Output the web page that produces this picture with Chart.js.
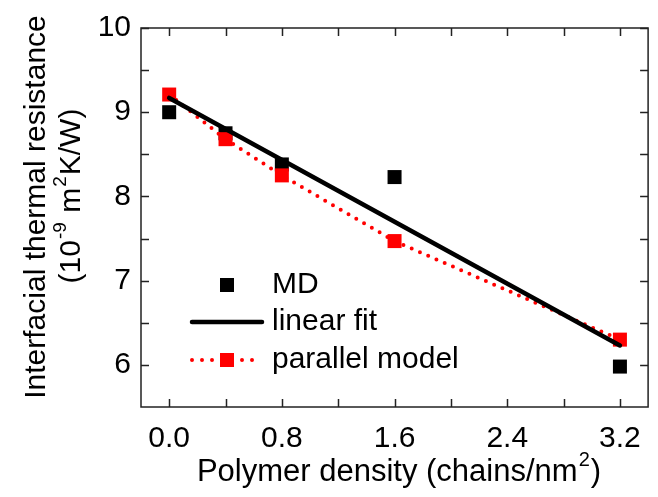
<!DOCTYPE html>
<html><head><meta charset="utf-8">
<script src="https://cdn.jsdelivr.net/npm/chart.js@4"></script>
<style>html,body{margin:0;padding:0;background:#fff}#wrap{width:658px;height:497px}</style>
</head><body><div id="wrap"><canvas id="c" width="658" height="497"></canvas></div>
<script>
// ---- data ----
const mdX = [0, 0.4, 0.8, 1.6, 3.2];
const mdY = [9.0, 8.75, 8.38, 8.23, 5.98];
const fitX = [0, 3.2];
const fitY = [9.17, 6.23];
const parX = [0, 0.4, 0.8, 1.6, 3.2];
const parY = [9.21, 8.68, 8.25, 7.47, 6.30];
const xTicks = [0, 0.8, 1.6, 2.4, 3.2];
const xTickLabels = ['0.0', '0.8', '1.6', '2.4', '3.2'];
const xMinorTicks = [0.4, 1.2, 2.0, 2.8];
const yTicks = [6, 7, 8, 9, 10];
const yTickLabels = ['6', '7', '8', '9', '10'];
const yMinorTicks = [6.5, 7.5, 8.5, 9.5];
const legendLabels = ['MD', 'linear fit', 'parallel model'];

const FONT = '"Liberation Sans", Arial, sans-serif';
const pts = (xs, ys) => xs.map((x, i) => ({x: x, y: ys[i]}));

const framePlugin = {
  id: 'frame',
  afterDraw(chart) {
    const ctx = chart.ctx, a = chart.chartArea;
    const xs = chart.scales.x, ys = chart.scales.y;
    ctx.save();
    ctx.strokeStyle = '#222';
    ctx.lineWidth = 1.5;
    ctx.strokeRect(a.left, a.top, a.right - a.left, a.bottom - a.top);
    const TL = 8;
    ctx.beginPath();
    xTicks.concat(xMinorTicks).forEach(v => {
      const p = Math.round(xs.getPixelForValue(v)) + 0.5;
      ctx.moveTo(p, a.bottom); ctx.lineTo(p, a.bottom - TL);
      ctx.moveTo(p, a.top); ctx.lineTo(p, a.top + TL);
    });
    yTicks.concat(yMinorTicks).forEach(v => {
      const p = Math.round(ys.getPixelForValue(v)) + 0.5;
      ctx.moveTo(a.left, p); ctx.lineTo(a.left + TL, p);
      ctx.moveTo(a.right, p); ctx.lineTo(a.right - TL, p);
    });
    ctx.stroke();

    // legend
    ctx.fillStyle = '#000';
    ctx.font = '30px ' + FONT;
    ctx.textBaseline = 'middle';
    ctx.textAlign = 'left';
    const lx0 = 192, lx1 = 262, tx = 272;
    const rows = [285, 322, 360];
    ctx.fillStyle = '#000';
    ctx.fillRect(227 - 7, rows[0] - 7, 14, 14);
    ctx.fillText(legendLabels[0], tx, rows[0]);
    ctx.strokeStyle = '#000'; ctx.lineWidth = 4.5; ctx.lineCap = 'round';
    ctx.beginPath(); ctx.moveTo(lx0, rows[1]); ctx.lineTo(lx1, rows[1]); ctx.stroke();
    ctx.fillText(legendLabels[1], tx, rows[1]);
    ctx.strokeStyle = '#ff0000'; ctx.lineWidth = 4; ctx.setLineDash([0, 10]);
    ctx.beginPath(); ctx.moveTo(lx0, rows[2]); ctx.lineTo(lx1, rows[2]); ctx.stroke();
    ctx.setLineDash([]);
    ctx.fillStyle = '#ff0000';
    ctx.fillRect(227 - 7, rows[2] - 7, 14, 14);
    ctx.fillStyle = '#000';
    ctx.fillText(legendLabels[2], tx, rows[2]);

    // axis titles with superscripts
    const drawRich = (parts, cx, cy, size) => {
      const sup = Math.round(size * 0.63);
      let w = 0;
      parts.forEach(p => { ctx.font = (p.sup ? sup : size) + 'px ' + FONT; w += ctx.measureText(p.t).width + (p.sup ? 2 : 0); });
      let x = cx - w / 2;
      parts.forEach(p => {
        ctx.font = (p.sup ? sup : size) + 'px ' + FONT;
        if (p.sup) x += 1;
        ctx.fillText(p.t, x, p.sup ? cy - size * 0.37 : cy);
        x += ctx.measureText(p.t).width + (p.sup ? 1 : 0);
      });
    };
    ctx.textBaseline = 'middle';
    drawRich([{t: 'Polymer density (chains/nm'}, {t: '2', sup: true}, {t: ')'}], 399, 472, 31);
    ctx.save();
    ctx.translate(37, 207);
    ctx.rotate(-Math.PI / 2);
    drawRich([{t: 'Interfacial thermal resistance'}], 0, 0, 30);
    ctx.restore();
    ctx.save();
    ctx.translate(72, 196);
    ctx.rotate(-Math.PI / 2);
    drawRich([{t: '(10'}, {t: '-9', sup: true}, {t: ' m'}, {t: '2', sup: true}, {t: 'K/W)'}], 0, 0, 30);
    ctx.restore();
    ctx.restore();
  }
};

new Chart(document.getElementById('c'), {
  type: 'scatter',
  data: {
    datasets: [
      {
        label: legendLabels[1], type: 'line', data: pts(fitX, fitY),
        borderColor: '#000', borderWidth: 4.5, pointRadius: 0, fill: false,
        borderCapStyle: 'round', order: 0
      },
      {
        label: legendLabels[2], type: 'line', data: pts(parX, parY),
        borderColor: '#ff0000', borderWidth: 4, borderDash: [0, 9], borderCapStyle: 'round',
        pointStyle: 'rect', pointRadius: 9.9, pointBorderWidth: 0,
        pointBackgroundColor: '#ff0000', pointBorderColor: '#ff0000', fill: false, order: 1
      },
      {
        label: legendLabels[0], data: pts(mdX, mdY), showLine: false,
        pointStyle: 'rect', pointRadius: 9.9, pointBorderWidth: 0,
        pointBackgroundColor: '#000', pointBorderColor: '#000', order: 2
      }
    ]
  },
  options: {
    responsive: false, animation: false, devicePixelRatio: 1,
    layout: {padding: {left: 0, right: 1, top: 26, bottom: 0}},
    plugins: {legend: {display: false}, tooltip: {enabled: false}, title: {display: false}},
    scales: {
      x: {
        type: 'linear', min: -0.2, max: 3.4,
        afterBuildTicks: s => { s.ticks = xTicks.map(v => ({value: v})); },
        afterFit: s => { s.height = 90; },
        grid: {display: false, drawTicks: false},
        border: {display: false},
        ticks: {
          callback: (v, i) => xTickLabels[i], color: '#000', padding: 14,
          font: {family: FONT, size: 30}, maxRotation: 0, autoSkip: false
        }
      },
      y: {
        type: 'linear', min: 5.5, max: 10,
        afterBuildTicks: s => { s.ticks = yTicks.map(v => ({value: v})); },
        afterFit: s => { s.width = 141; },
        grid: {display: false, drawTicks: false},
        border: {display: false},
        ticks: {
          callback: (v, i) => yTickLabels[i], color: '#000', padding: 10,
          font: {family: FONT, size: 30}, autoSkip: false
        }
      }
    }
  },
  plugins: [framePlugin]
});
</script>
</body></html>
